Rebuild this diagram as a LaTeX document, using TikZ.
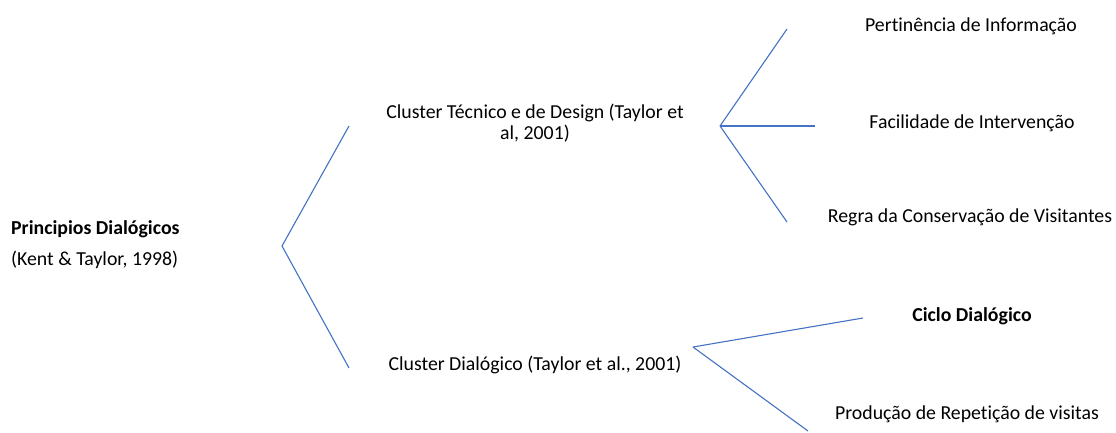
\documentclass[tikz,border=0pt]{standalone}
\usepackage{fontspec}
\setmainfont[Ligatures=NoCommon]{Carlito}
\usepackage{xcolor}
\usepackage{tikz}
\usetikzlibrary{positioning,calc}
\definecolor{officeblue}{RGB}{68,114,196}

\begin{document}
\begin{tikzpicture}[
    x=1pt, y=-1pt,
    label/.style={inner sep=0pt, font=\fontsize{19.8}{21.5}\selectfont, text centered},
    title/.style={inner sep=0pt, font=\fontsize{19.8}{21.5}\selectfont, anchor=west},
    branch/.style={draw=officeblue, line width=1.1pt}
]
\useasboundingbox (0,0) rectangle (1116,432);

% Root
\node[title] (root) at (11,229) {\textbf{Principios Dialógicos}};
\node[title] (rootref) at (11,260) {(Kent \& Taylor, 1998)};

% Clusters
\node[label, align=center] (tech) at (535,123) {Cluster Técnico e de Design (Taylor et\\al, 2001)};
\node[label] (dial) at (535,365) {Cluster Dialógico (Taylor et al., 2001)};

% Principles
\node[label] (pert) at (971,26) {Pertinência de Informação};
\node[label] (facil) at (972,123) {Facilidade de Intervenção};
\node[label] (regra) at (970,217) {Regra da Conservação de Visitantes};
\node[label] (ciclo) at (972,316) {\textbf{Ciclo Dialógico}};
\node[label] (prod) at (967,414) {Produção de Repetição de visitas};

% Bracket points
\coordinate (rootfork) at (282,246);
\coordinate (techend) at (349,126);
\coordinate (dialend) at (349,368);
\coordinate (techfork) at (720,126);
\coordinate (pertend) at (787,29);
\coordinate (facilend) at (815,126);
\coordinate (regraend) at (787,222);
\coordinate (dialfork) at (693,347);
\coordinate (cicloend) at (863,318);
\coordinate (prodend) at (808,431);

% Connections
\draw[branch] (techend) -- (rootfork) -- (dialend);
\draw[branch] (techfork) -- (pertend);
\draw[branch] (techfork) -- (facilend);
\draw[branch] (techfork) -- (regraend);
\draw[branch] (dialfork) -- (cicloend);
\draw[branch] (dialfork) -- (prodend);

\end{tikzpicture}
\end{document}
